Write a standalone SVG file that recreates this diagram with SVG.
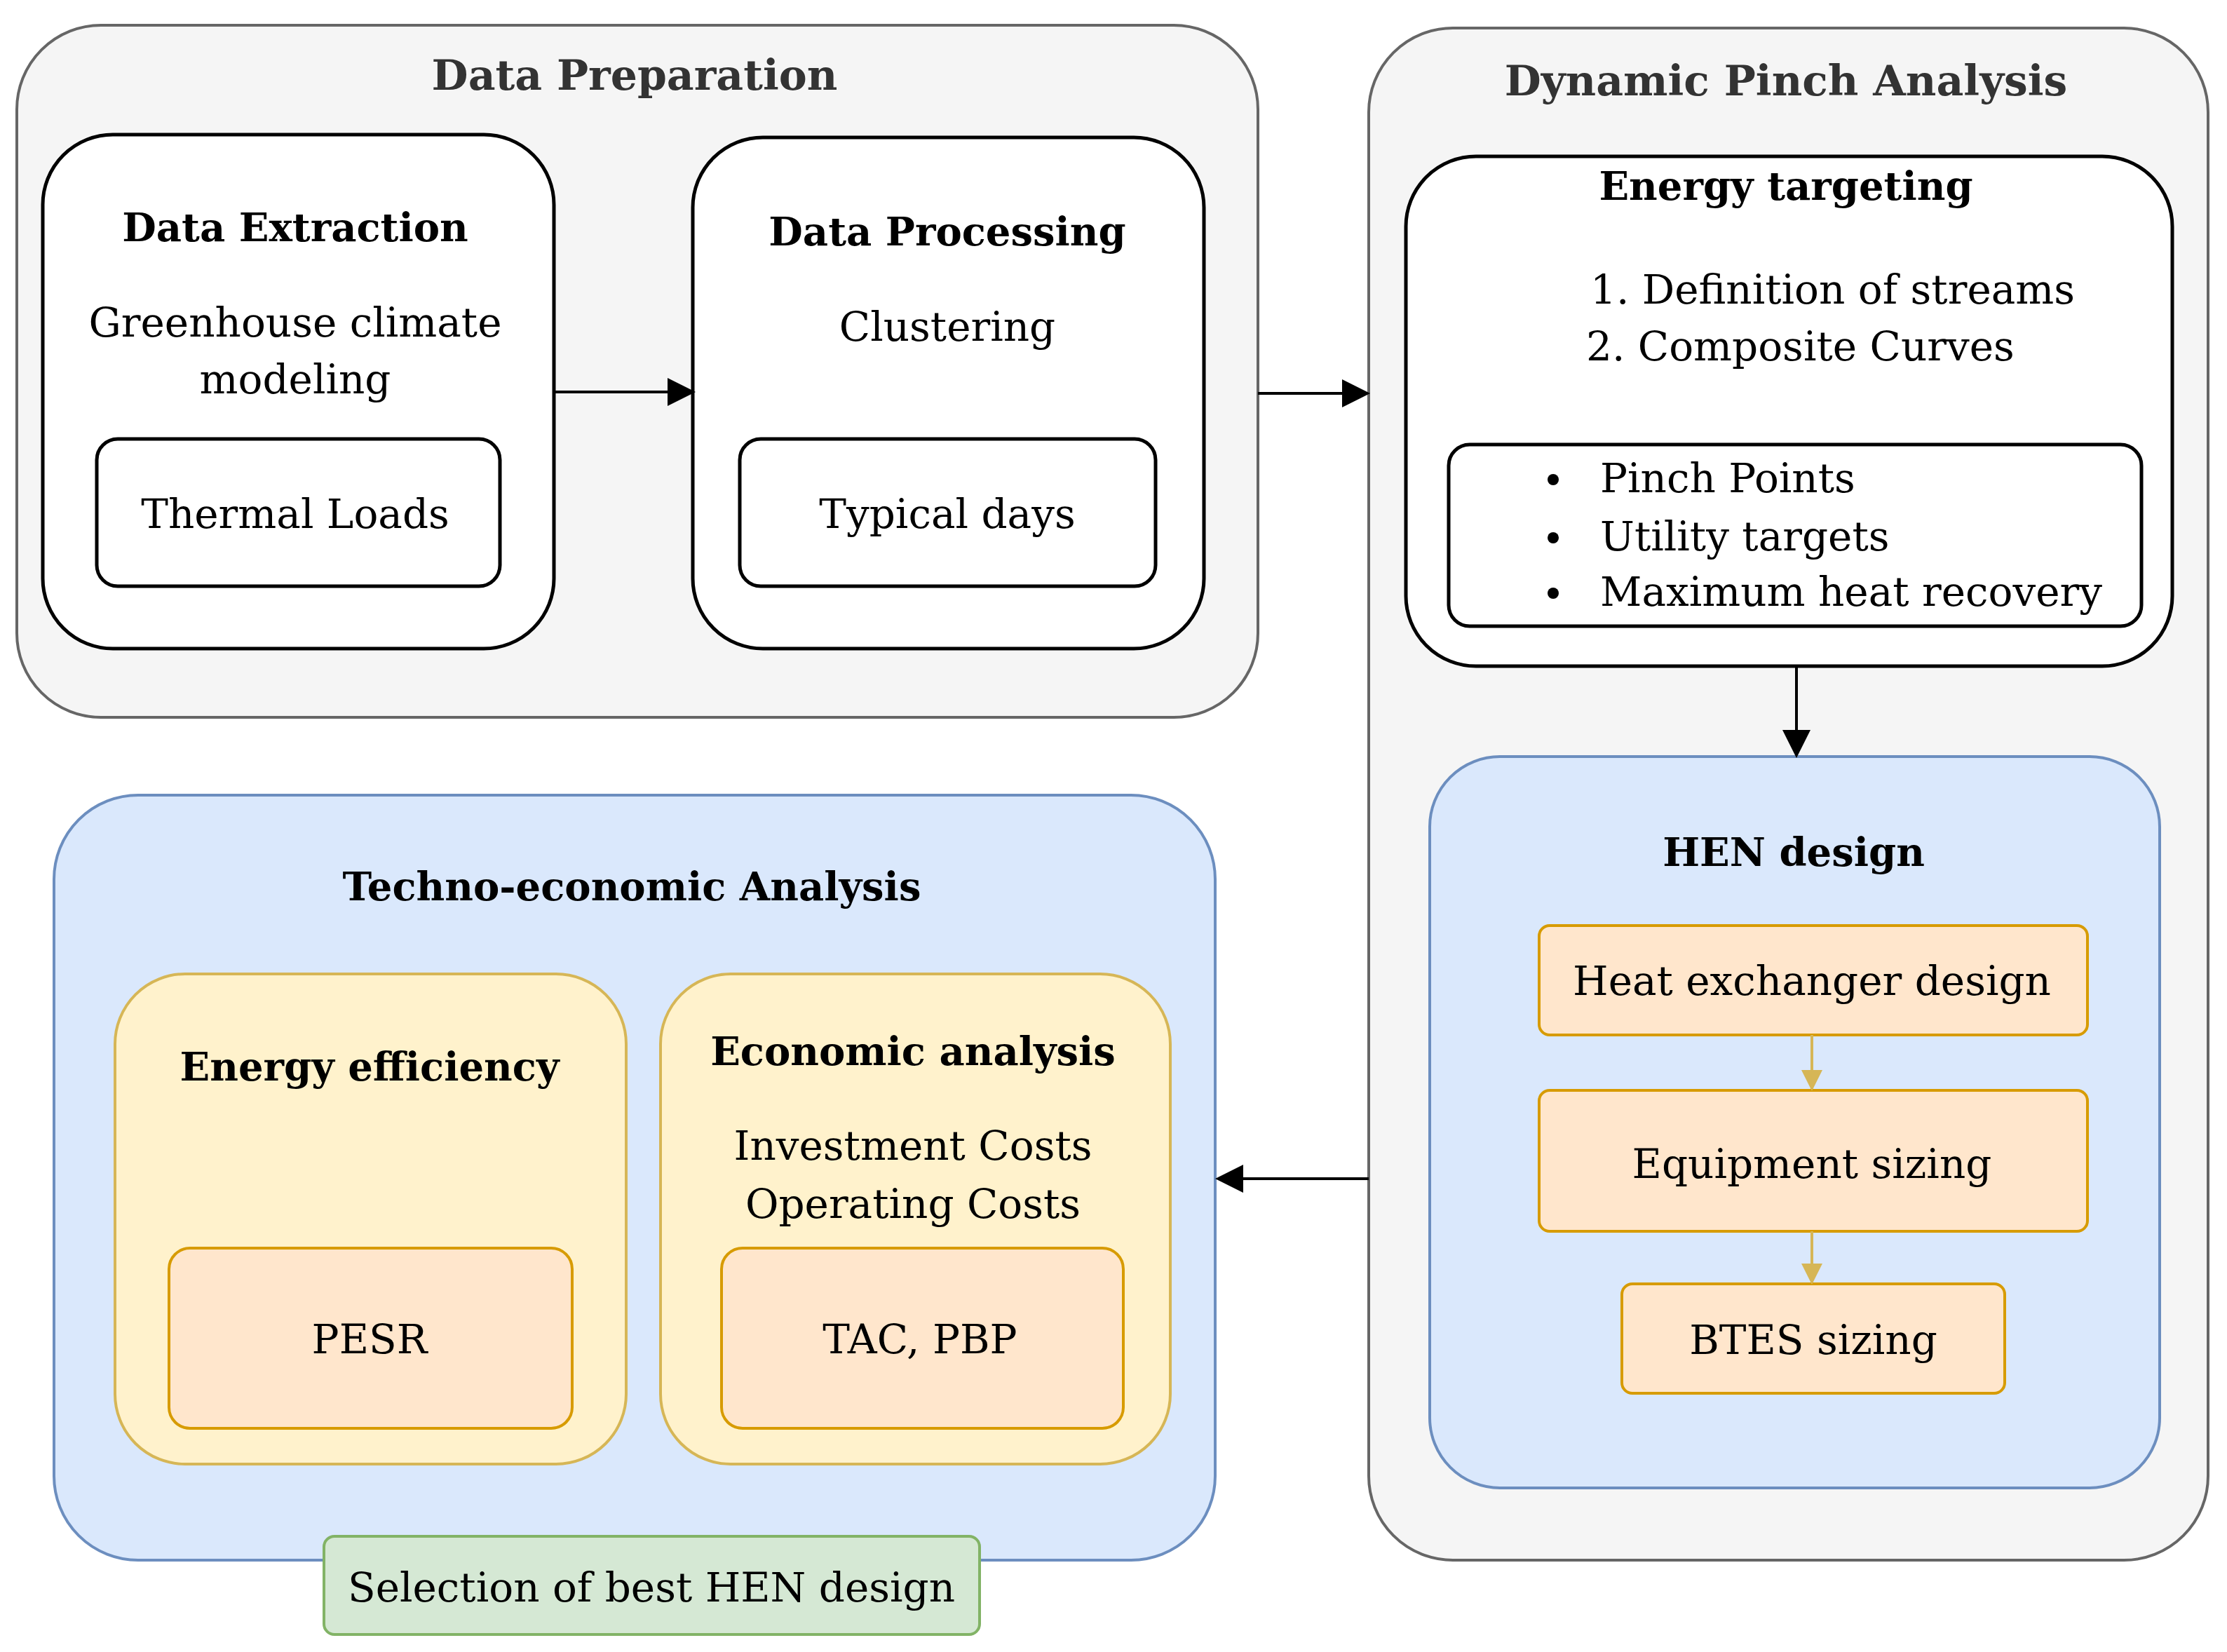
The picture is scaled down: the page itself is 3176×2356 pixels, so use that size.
<svg xmlns="http://www.w3.org/2000/svg" width="3176" height="2356" viewBox="0 0 3176 2356">
<defs>
<marker id="ah" viewBox="0 0 10 10" refX="9" refY="5" markerWidth="7" markerHeight="7" markerUnits="userSpaceOnUse" orient="auto"><path d="M0,0 L10,5 L0,10 Z" fill="#000"/></marker>
<marker id="ahk" viewBox="0 0 10 10" refX="9" refY="5" markerWidth="40" markerHeight="40" markerUnits="userSpaceOnUse" orient="auto"><path d="M0,0 L10,5 L0,10 Z" fill="#000"/></marker>
<marker id="ahg" viewBox="0 0 10 10" refX="9" refY="5" markerWidth="30" markerHeight="30" markerUnits="userSpaceOnUse" orient="auto"><path d="M0,0 L10,5 L0,10 Z" fill="#d6b656"/></marker>
<style>
text{font-family:"DejaVu Serif","Liberation Serif",serif;fill:#000;text-anchor:middle;dominant-baseline:central}
.t{font-size:60px;font-weight:bold;fill:#333}
.b{font-size:56px;font-weight:bold}
.n{font-size:58px}
.grey{fill:#f5f5f5;stroke:#666;stroke-width:4}
.white{fill:#fff;stroke:#000;stroke-width:5}
.blue{fill:#dae8fc;stroke:#6c8ebf;stroke-width:4}
.yel{fill:#fff2cc;stroke:#d6b656;stroke-width:4}
.org{fill:#ffe6cc;stroke:#d79b00;stroke-width:4}
.grn{fill:#d5e8d4;stroke:#82b366;stroke-width:4}
.c{stroke:#000;stroke-width:4;fill:none}
</style>
</defs>
<g id="data-preparation"><rect class="grey" x="24" y="36" width="1770" height="987" rx="120"/><text class="t" x="905" y="107">Data Preparation</text></g>
<g id="data-extraction"><rect class="white" x="61" y="192" width="729" height="733" rx="100"/><text class="b" x="421" y="324">Data Extraction</text><text class="n" x="421" y="460">Greenhouse climate</text><text class="n" x="421" y="541">modeling</text></g>
<g id="thermal-loads"><rect class="white" x="138" y="626" width="575" height="210" rx="30"/><text class="n" x="421" y="733">Thermal Loads</text></g>
<g id="data-processing"><rect class="white" x="988" y="196" width="729" height="729" rx="100"/><text class="b" x="1351" y="330">Data Processing</text><text class="n" x="1351" y="466">Clustering</text></g>
<g id="typical-days"><rect class="white" x="1055" y="626" width="593" height="210" rx="30"/><text class="n" x="1351" y="733">Typical days</text></g>
<g id="dynamic-pinch"><rect class="grey" x="1952" y="40" width="1197" height="2185" rx="120"/><text class="t" x="2547" y="115">Dynamic Pinch Analysis</text></g>
<g id="energy-targeting"><rect class="white" x="2005" y="223" width="1093" height="727" rx="100"/><text class="b" x="2547" y="265">Energy targeting</text><text class="n" x="2268" y="413" style="text-anchor:start">1. Definition of streams</text><text class="n" x="2262" y="494" style="text-anchor:start">2. Composite Curves</text></g>
<g id="pinch-results"><rect class="white" x="2066" y="634" width="988" height="259" rx="30"/>
<circle cx="2215" cy="684" r="8"/><circle cx="2215" cy="767" r="8"/><circle cx="2215" cy="846" r="8"/>
<text class="n" x="2282" y="682" style="text-anchor:start">Pinch Points</text><text class="n" x="2282" y="765" style="text-anchor:start">Utility targets</text><text class="n" x="2282" y="844" style="text-anchor:start">Maximum heat recovery</text></g>
<g id="hen-design"><rect class="blue" x="2039" y="1079" width="1041" height="1043" rx="100"/><text class="b" x="2558" y="1215">HEN design</text></g>
<g id="heat-exchanger"><rect class="org" x="2195" y="1320" width="782" height="156" rx="15"/><text class="n" x="2584" y="1399">Heat exchanger design</text></g>
<g id="equipment-sizing"><rect class="org" x="2195" y="1555" width="782" height="201" rx="15"/><text class="n" x="2584" y="1660">Equipment sizing</text></g>
<g id="btes-sizing"><rect class="org" x="2313" y="1831" width="546" height="156" rx="15"/><text class="n" x="2586" y="1911">BTES sizing</text></g>
<g id="techno-economic"><rect class="blue" x="77" y="1134" width="1656" height="1091" rx="120"/><text class="b" x="901" y="1264">Techno-economic Analysis</text></g>
<g id="energy-efficiency"><rect class="yel" x="164" y="1389" width="729" height="699" rx="100"/><text class="b" x="527" y="1521">Energy efficiency</text></g>
<g id="pesr"><rect class="org" x="241" y="1780" width="575" height="257" rx="30"/><text class="n" x="527" y="1910">PESR</text></g>
<g id="economic-analysis"><rect class="yel" x="942" y="1389" width="727" height="699" rx="100"/><text class="b" x="1302" y="1499">Economic analysis</text><text class="n" x="1302" y="1634">Investment Costs</text><text class="n" x="1302" y="1717">Operating Costs</text></g>
<g id="tac-pbp"><rect class="org" x="1029" y="1780" width="573" height="257" rx="30"/><text class="n" x="1312" y="1910">TAC, PBP</text></g>
<g id="selection"><rect class="grn" x="462" y="2191" width="935" height="140" rx="15"/><text class="n" x="929" y="2264">Selection of best HEN design</text></g>
<g id="connectors">
<line class="c" x1="790" y1="559" x2="988" y2="559" marker-end="url(#ahk)"/>
<line class="c" x1="1794" y1="561" x2="1950" y2="561" marker-end="url(#ahk)"/>
<line class="c" x1="2562" y1="950" x2="2562" y2="1077" marker-end="url(#ahk)"/>
<line class="c" x1="1952" y1="1681" x2="1737" y2="1681" marker-end="url(#ahk)"/>
<line stroke="#d6b656" stroke-width="4" x1="2584" y1="1476" x2="2584" y2="1553" marker-end="url(#ahg)"/>
<line stroke="#d6b656" stroke-width="4" x1="2584" y1="1756" x2="2584" y2="1829" marker-end="url(#ahg)"/>
</g>
</svg>
